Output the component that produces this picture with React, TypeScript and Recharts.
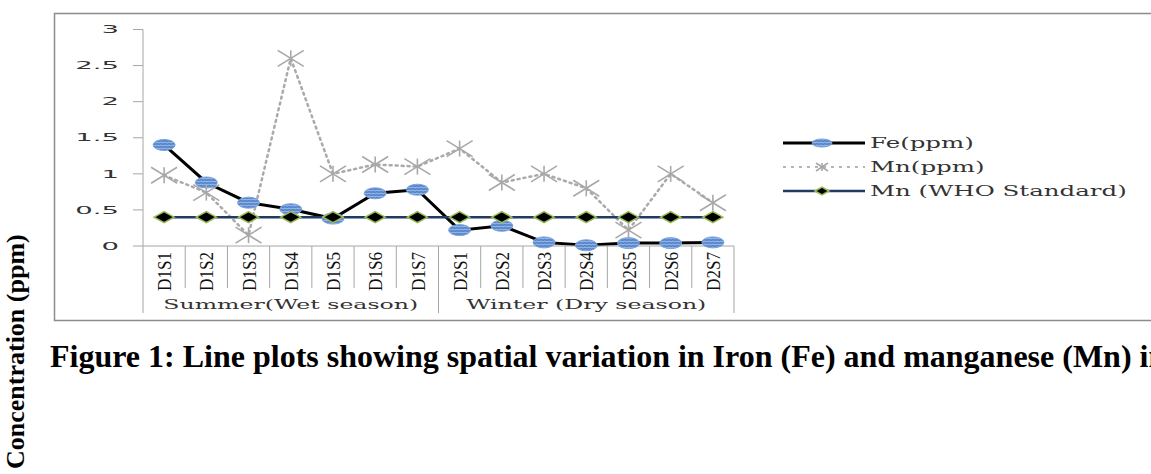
import { LineChart, Line, XAxis, YAxis } from "recharts";

const sites = [
  "D1S1", "D1S2", "D1S3", "D1S4", "D1S5", "D1S6", "D1S7",
  "D2S1", "D2S2", "D2S3", "D2S4", "D2S5", "D2S6", "D2S7",
];
const feValues = [1.4, 0.88, 0.6, 0.51, 0.38, 0.73, 0.78, 0.22, 0.28, 0.05, 0.01, 0.04, 0.04, 0.05];
const mnValues = [0.98, 0.74, 0.15, 2.6, 1.0, 1.13, 1.1, 1.35, 0.88, 1.0, 0.8, 0.22, 1.0, 0.6];
const whoValues = [0.4, 0.4, 0.4, 0.4, 0.4, 0.4, 0.4, 0.4, 0.4, 0.4, 0.4, 0.4, 0.4, 0.4];
const seasons = ["Summer(Wet season)", "Winter (Dry season)"];
const seriesNames = ["Fe(ppm)", "Mn(ppm)", "Mn (WHO Standard)"];
const yTicks = [0, 0.5, 1, 1.5, 2, 2.5, 3];
const siteTicks = sites.map((_, i) => i);
const caption =
  "Figure 1: Line plots showing spatial variation in Iron (Fe) and manganese (Mn) in";
const yLabel = "Concentration (ppm)";

const rows = sites.map((site, i) => ({
  idx: i,
  site,
  fe: feValues[i],
  mn: mnValues[i],
  who: whoValues[i],
}));

const W = 1151;
const H = 474;
const CHART_H = 330;
const PLOT_LEFT = 143;
const PLOT_RIGHT = 734;
const PLOT_TOP = 29.5;
const PLOT_BOTTOM = 246;
const BAND = (PLOT_RIGHT - PLOT_LEFT) / sites.length;
const GRAY = "#a6a6a6";
const TEXT = "#333";

// the original picture is stretched sideways, so chart text gets scaled in x
function YTick({ x, y, payload }: any) {
  return (
    <text
      transform={`translate(${x} ${y}) scale(2.5 1)`}
      textAnchor="end"
      dominantBaseline="central"
      fontFamily="DejaVu Sans"
      fontSize={11}
      fill={TEXT}
    >
      {payload.value}
    </text>
  );
}

function SiteTick({ x, y, payload }: any) {
  const i = payload.value as number;
  const half = BAND / 2;
  const groupEnd = i === 6 || i === sites.length - 1;
  const seasonIdx = i === 3 ? 0 : i === 10 ? 1 : -1;
  return (
    <g>
      {i === 0 && (
        <line x1={x - half} x2={x - half} y1={y} y2={y + 67} stroke={GRAY} />
      )}
      <line
        x1={x + half}
        x2={x + half}
        y1={y}
        y2={y + (groupEnd ? 67 : 42)}
        stroke={GRAY}
      />
      <text
        transform={`translate(${x + 1} ${y + 6}) rotate(-90) scale(0.95 1)`}
        textAnchor="end"
        dominantBaseline="central"
        fontFamily="Liberation Serif"
        fontSize={18}
        fill="#111"
      >
        {sites[i]}
      </text>
      {seasonIdx >= 0 && (
        <text
          transform={`translate(${x} ${y + 58}) scale(1.75 1)`}
          textAnchor="middle"
          dominantBaseline="central"
          fontFamily="DejaVu Serif"
          fontSize={13.5}
          fill={TEXT}
        >
          {seasons[seasonIdx]}
        </text>
      )}
    </g>
  );
}

function FeDot({ cx, cy, index, rx = 11, ry = 5.5 }: any) {
  return (
    <ellipse
      key={`fe-${index}`}
      cx={cx}
      cy={cy}
      rx={rx}
      ry={ry}
      fill="url(#fePattern)"
      stroke="#78a3dc"
      strokeWidth={1}
    />
  );
}

function MnDot({ cx, cy, index, w = 13, h = 8 }: any) {
  return (
    <g key={`mn-${index}`} stroke="#a8a8a8" strokeWidth={1.6}>
      <line x1={cx - w} y1={cy - h} x2={cx + w} y2={cy + h} />
      <line x1={cx - w} y1={cy + h} x2={cx + w} y2={cy - h} />
      <line x1={cx} y1={cy - h} x2={cx} y2={cy + h} />
    </g>
  );
}

function WhoDot({ cx, cy, index, w = 10, h = 5.5 }: any) {
  return (
    <polygon
      key={`who-${index}`}
      points={`${cx - w},${cy} ${cx},${cy - h} ${cx + w},${cy} ${cx},${cy + h}`}
      fill="#000"
      stroke="#9bbb59"
      strokeWidth={1.5}
    />
  );
}

function Legend() {
  const x1 = 783;
  const x2 = 865;
  const mid = 822;
  const ys = [143, 167, 191];
  return (
    <g>
      <line x1={x1} x2={x2} y1={ys[0]} y2={ys[0]} stroke="#000" strokeWidth={3} />
      <FeDot cx={mid} cy={ys[0]} rx={10} ry={4} />
      <line
        x1={x1}
        x2={x2}
        y1={ys[1]}
        y2={ys[1]}
        stroke="#b5b5b5"
        strokeWidth={2}
        strokeDasharray="3 5"
      />
      <MnDot cx={mid} cy={ys[1]} w={6} h={4} />
      <line x1={x1} x2={x2} y1={ys[2]} y2={ys[2]} stroke="#1f3b64" strokeWidth={2.5} />
      <WhoDot cx={mid} cy={ys[2]} w={7} h={4} />
      {seriesNames.map((name, i) => (
        <text
          key={name}
          transform={`translate(870 ${ys[i]}) scale(1.75 1)`}
          dominantBaseline="central"
          fontFamily="DejaVu Serif"
          fontSize={14}
          fill={TEXT}
        >
          {name}
        </text>
      ))}
    </g>
  );
}

export default function App() {
  return (
    <div
      style={{
        position: "absolute",
        left: 0,
        top: 0,
        width: W,
        height: H,
        overflow: "hidden",
        background: "#fff",
      }}
    >
      <svg width={W} height={H} style={{ position: "absolute", left: 0, top: 0 }}>
        <defs>
          <pattern id="fePattern" width="4" height="3" patternUnits="userSpaceOnUse">
            <rect width="4" height="3" fill="#5685cc" />
            <path d="M0 1.5 Q1 0.6 2 1.5 T4 1.5" stroke="#b3cdf0" strokeWidth="0.8" fill="none" />
          </pattern>
        </defs>
        <polyline
          points={`${W},13.5 54.5,13.5 54.5,320.5 ${W},320.5`}
          fill="none"
          stroke="#8c8c8c"
          strokeWidth={1.5}
        />
        <Legend />
        <text
          x={50}
          y={367}
          fontFamily="Liberation Serif"
          fontWeight="bold"
          fontSize={32}
          fill="#000"
        >
          {caption}
        </text>
        <text
          transform="translate(24 469) rotate(-90)"
          fontFamily="Liberation Serif"
          fontWeight="bold"
          fontSize={26}
          fill="#000"
        >
          {yLabel}
        </text>
      </svg>
      <div style={{ position: "absolute", left: 0, top: 0 }}>
        <LineChart
          width={W}
          height={CHART_H}
          data={rows}
          margin={{
            top: PLOT_TOP,
            right: W - PLOT_RIGHT,
            bottom: CHART_H - PLOT_BOTTOM - 1,
            left: PLOT_LEFT - 1,
          }}
        >
          <XAxis
            dataKey="idx"
            type="number"
            domain={[-0.5, sites.length - 0.5]}
            ticks={siteTicks}
            interval={0}
            height={1}
            tickSize={0}
            tickMargin={0}
            tickLine={false}
            axisLine={{ stroke: GRAY }}
            tick={<SiteTick />}
          />
          <YAxis
            domain={[0, 3]}
            ticks={yTicks}
            width={1}
            tickSize={10}
            tickMargin={14}
            tickLine={{ stroke: GRAY }}
            axisLine={{ stroke: GRAY }}
            tick={<YTick />}
          />
          <Line
            dataKey="fe"
            stroke="#000"
            strokeWidth={3}
            dot={(p: any) => <FeDot {...p} key={`fe-${p.index}`} />}
            isAnimationActive={false}
          />
          <Line
            dataKey="mn"
            stroke="#aaaaaa"
            strokeWidth={2.5}
            strokeDasharray="2 4"
            strokeLinecap="round"
            dot={(p: any) => <MnDot {...p} key={`mn-${p.index}`} />}
            isAnimationActive={false}
          />
          <Line
            dataKey="who"
            stroke="#1f3b64"
            strokeWidth={2.5}
            dot={(p: any) => <WhoDot {...p} key={`who-${p.index}`} />}
            isAnimationActive={false}
          />
        </LineChart>
      </div>
    </div>
  );
}
